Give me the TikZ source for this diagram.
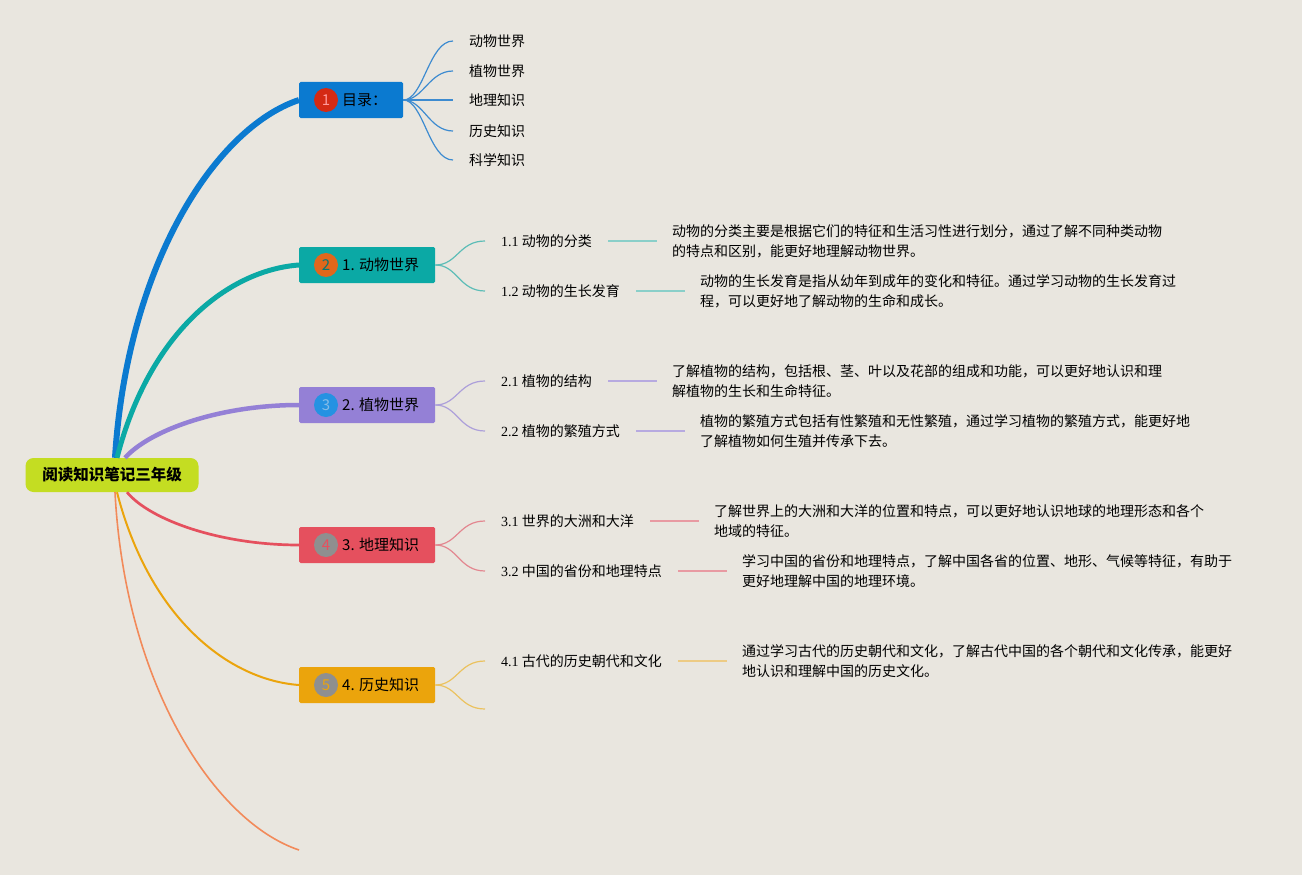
\documentclass[tikz,border=0pt]{standalone}
\usepackage{fontspec}
\setmainfont{Noto Sans CJK SC}
\newfontfamily\numfont{Liberation Serif}
\usepackage{tikz}
\usetikzlibrary{positioning}
\usepackage{xcolor}
\definecolor{bgc}{HTML}{E9E6DF}
\definecolor{rootc}{HTML}{C4DD22}
\definecolor{cA}{HTML}{0B7AD0}
\definecolor{cAl}{HTML}{3D8BD0}
\definecolor{cB}{HTML}{0BA9A5}
\definecolor{cBl}{HTML}{5DBDB7}
\definecolor{cBs}{HTML}{8ACFC9}
\definecolor{cC}{HTML}{9480D6}
\definecolor{cCl}{HTML}{ADA0DA}
\definecolor{cCs}{HTML}{B7AAE0}
\definecolor{cD}{HTML}{E5505E}
\definecolor{cDl}{HTML}{E38790}
\definecolor{cDs}{HTML}{E89AA2}
\definecolor{cE}{HTML}{EBA40C}
\definecolor{cEl}{HTML}{EBC25F}
\definecolor{cEs}{HTML}{EDCB84}
\definecolor{cF}{HTML}{F28A5A}
\definecolor{bA}{HTML}{D42A14}
\definecolor{bB}{HTML}{E0671B}
\definecolor{bC}{HTML}{2592E2}
\definecolor{bD}{HTML}{8F8F8F}

\begin{document}
\begin{tikzpicture}[x=1pt,y=-1pt,
        root/.style={rectangle,rounded corners=8pt,fill=rootc,minimum width=173pt,minimum height=34pt,inner sep=0pt,font=\fontsize{15.5}{18}\selectfont\bfseries},
        topic/.style={rectangle,rounded corners=1.5pt,minimum height=36pt,inner xsep=16pt,inner ysep=0pt,anchor=west,font=\fontsize{15}{18}\selectfont},
        badge/.style={circle,minimum size=24pt,inner sep=0pt,font=\fontsize{15}{18}\selectfont},
        sub/.style={inner xsep=16pt,inner ysep=0pt,anchor=west,font=\fontsize{14}{20}\selectfont},
        note/.style={inner sep=0pt,align=left,font=\fontsize{14}{20}\selectfont},
        twig/.style={line width=1.2pt},
        stub/.style={line width=2pt,shorten >=15pt}]
            \fill[bgc] (0,0) rectangle (1302,875);

            \node [root] (root) at (112,475) {阅读知识笔记三年级};

            \node [topic,fill=cA] (t1) at (299,100) {\hspace*{27pt}目录：};
            \node [topic,fill=cB] (t2) at (299,265) {\hspace*{27pt}1. 动物世界};
            \node [topic,fill=cC] (t3) at (299,405) {\hspace*{27pt}2. 植物世界};
            \node [topic,fill=cD] (t4) at (299,545) {\hspace*{27pt}3. 地理知识};
            \node [topic,fill=cE] (t5) at (299,685) {\hspace*{27pt}4. 历史知识};
            \coordinate (e6) at (299,850);

            \node [badge,fill=bA,text=red!40!white] (n1) at ([xshift=27pt]t1.west) {1};
            \node [badge,fill=bB,text=cB!70!black] (n2) at ([xshift=27pt]t2.west) {2};
            \node [badge,fill=bC,text=cA!50!white] (n3) at ([xshift=27pt]t3.west) {3};
            \node [badge,fill=bD,text=cD] (n4) at ([xshift=27pt]t4.west) {4};
            \node [badge,fill=bD,text=cE] (n5) at ([xshift=27pt]t5.west) {5};

            \draw [cA, line width=6pt] ([xshift=3pt]root.north) .. controls (127,265) and (215,128) .. (t1.west);
            \draw [cB, line width=5pt] ([xshift=5pt]root.north) .. controls (150,330) and (230,270) .. (t2.west);
            \draw [cC, line width=4.5pt] ([xshift=13pt]root.north) .. controls (150,430) and (220,405) .. (t3.west);
            \draw [cD, line width=2.7pt] ([xshift=15pt]root.south) .. controls (150,520) and (220,545) .. (t4.west);
            \draw [cE, line width=2pt] ([xshift=5pt]root.south) .. controls (150,620) and (230,680) .. (t5.west);
            \draw [cF, line width=1.6pt] ([xshift=3pt]root.south) .. controls (125,685) and (215,822) .. (e6);

            \node [sub] (m1) at (453,41) {动物世界};
            \node [sub] (m2) at (453,71) {植物世界};
            \node [sub] (m3) at (453,100) {地理知识};
            \node [sub] (m4) at (453,131) {历史知识};
            \node [sub] (m5) at (453,160) {科学知识};
            \foreach \m in {m1,m2,m3,m4,m5}
                \draw [cAl, twig] (t1.east) .. controls +(20,0) and +(-24,0) .. (\m.west);

            \node [sub] (l11) at (485,241) {{\numfont 1.1} 动物的分类};
            \node [sub] (l12) at (485,291) {{\numfont 1.2} 动物的生长发育};
            \node [sub] (l21) at (485,381) {{\numfont 2.1} 植物的结构};
            \node [sub] (l22) at (485,431) {{\numfont 2.2} 植物的繁殖方式};
            \node [sub] (l31) at (485,521) {{\numfont 3.1} 世界的大洲和大洋};
            \node [sub] (l32) at (485,571) {{\numfont 3.2} 中国的省份和地理特点};
            \node [sub] (l41) at (485,661) {{\numfont 4.1} 古代的历史朝代和文化};
            \coordinate (l42) at (485,709);

            \draw [cBl, twig] (t2.east) .. controls +(22,0) and +(-26,0) .. (l11.west);
            \draw [cBl, twig] (t2.east) .. controls +(22,0) and +(-26,0) .. (l12.west);
            \draw [cCl, twig] (t3.east) .. controls +(22,0) and +(-26,0) .. (l21.west);
            \draw [cCl, twig] (t3.east) .. controls +(22,0) and +(-26,0) .. (l22.west);
            \draw [cDl, twig] (t4.east) .. controls +(22,0) and +(-26,0) .. (l31.west);
            \draw [cDl, twig] (t4.east) .. controls +(22,0) and +(-26,0) .. (l32.west);
            \draw [cEl, twig] (t5.east) .. controls +(22,0) and +(-26,0) .. (l41.west);
            \draw [cEl, twig] (t5.east) .. controls +(22,0) and +(-26,0) .. (l42);

            \node [note,right=64pt of l11] (d11) {动物的分类主要是根据它们的特征和生活习性进行划分，通过了解不同种类动物\\的特点和区别，能更好地理解动物世界。};
            \node [note,right=64pt of l12] (d12) {动物的生长发育是指从幼年到成年的变化和特征。通过学习动物的生长发育过\\程，可以更好地了解动物的生命和成长。};
            \node [note,right=64pt of l21] (d21) {了解植物的结构，包括根、茎、叶以及花部的组成和功能，可以更好地认识和理\\解植物的生长和生命特征。};
            \node [note,right=64pt of l22] (d22) {植物的繁殖方式包括有性繁殖和无性繁殖，通过学习植物的繁殖方式，能更好地\\了解植物如何生殖并传承下去。};
            \node [note,right=64pt of l31] (d31) {了解世界上的大洲和大洋的位置和特点，可以更好地认识地球的地理形态和各个\\地域的特征。};
            \node [note,right=64pt of l32] (d32) {学习中国的省份和地理特点，了解中国各省的位置、地形、气候等特征，有助于\\更好地理解中国的地理环境。};
            \node [note,right=64pt of l41] (d41) {通过学习古代的历史朝代和文化，了解古代中国的各个朝代和文化传承，能更好\\地认识和理解中国的历史文化。};

            \draw [cBs, stub] (l11) -- (d11);
            \draw [cBs, stub] (l12) -- (d12);
            \draw [cCs, stub] (l21) -- (d21);
            \draw [cCs, stub] (l22) -- (d22);
            \draw [cDs, stub] (l31) -- (d31);
            \draw [cDs, stub] (l32) -- (d32);
            \draw [cEs, stub] (l41) -- (d41);
        \end{tikzpicture}
\end{document}
